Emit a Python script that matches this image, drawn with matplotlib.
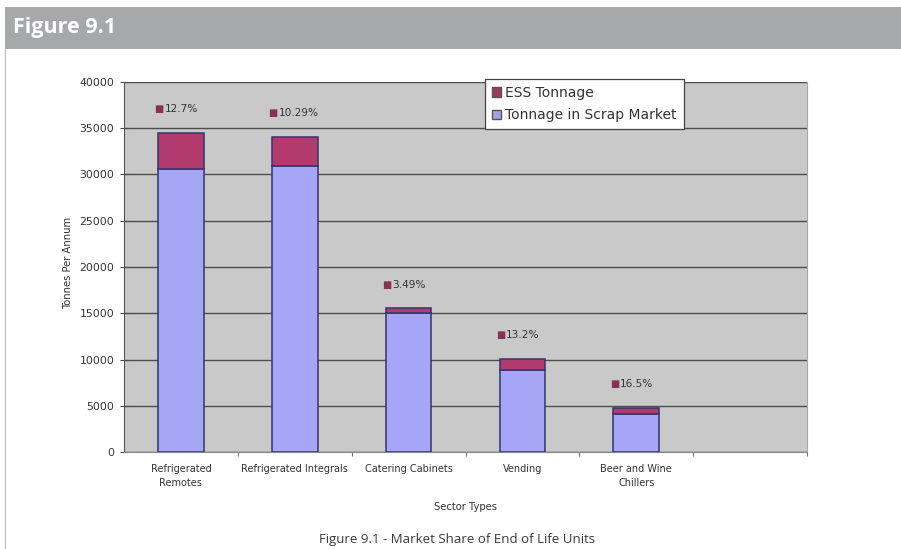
import matplotlib
matplotlib.use("Agg")
import matplotlib.pyplot as plt
from matplotlib.patches import Rectangle, Patch
from matplotlib.lines import Line2D


# -----------------------------
# DATA
# -----------------------------

sectors = [
    "Refrigerated\nRemotes",
    "Refrigerated Integrals",
    "Catering Cabinets",
    "Vending",
    "Beer and Wine\nChillers",
]

scrap_tonnage = [30600, 30900, 15000, 8900, 4100]
ess_tonnage = [3900, 3200, 520, 1200, 680]
share_labels = ["12.7%", "10.29%", "3.49%", "13.2%", "16.5%"]

y_ticks = [0, 5000, 10000, 15000, 20000, 25000, 30000, 35000, 40000]


# -----------------------------
# COLOURS
# -----------------------------

scrap_color = "#a6a6f7"
ess_color = "#b33a6d"
edge_color = "#34346e"
plot_bg = "#c9c9c9"
grid_color = "#4d4d4d"
text_color = "#333333"
header_color = "#a7a8aa"


# -----------------------------
# FIGURE + HEADER
# -----------------------------

W, H = 901, 549
fig = plt.figure(figsize=(W / 100, H / 100), dpi=100)
fig.patch.set_facecolor("white")

# grey header band
fig.add_artist(Rectangle(
    (5 / W, 1 - 49 / H), 896 / W, 42 / H,
    transform=fig.transFigure, facecolor=header_color,
    edgecolor="none", zorder=0
))

fig.text(
    13 / W, 1 - 28 / H, "Figure 9.1",
    family="Open Sans", weight="bold", fontsize=15.5,
    color="white", va="center", ha="left"
)

# left border of the panel
fig.add_artist(Line2D(
    [5 / W, 5 / W], [0, 1 - 49 / H],
    transform=fig.transFigure, color="#c4c4c4", lw=1.0
))


# -----------------------------
# STACKED BAR CHART
# -----------------------------

ax = fig.add_axes([124 / W, 1 - 452 / H, 683 / W, 370 / H])
ax.set_facecolor(plot_bg)

x = list(range(len(sectors)))

ax.bar(
    x, scrap_tonnage, width=0.4,
    color=scrap_color, edgecolor=edge_color, linewidth=1.1,
    zorder=3
)

ax.bar(
    x, ess_tonnage, width=0.4, bottom=scrap_tonnage,
    color=ess_color, edgecolor=edge_color, linewidth=1.1,
    zorder=3
)

# data labels with a small legend key
for i in x:

    total = scrap_tonnage[i] + ess_tonnage[i]

    ax.annotate(
        "\u25a0", xy=(i, total), xytext=(-19, 17),
        textcoords="offset points", ha="left", va="center",
        fontsize=7, color="#8a2f55", family="DejaVu Sans"
    )

    ax.annotate(
        share_labels[i], xy=(i, total), xytext=(-11.8, 17),
        textcoords="offset points", ha="left", va="center",
        fontsize=7.6, color=text_color, family="DejaVu Sans"
    )

ax.set_xlim(-0.5, 5.5)
ax.set_ylim(0, 40000)

ax.set_yticks(y_ticks)
ax.set_yticklabels([str(v) for v in y_ticks])
ax.yaxis.grid(True, color=grid_color, linewidth=1.0, zorder=1)
ax.set_axisbelow(True)

ax.tick_params(
    axis="y", direction="inout", length=6, width=0.8,
    colors=grid_color, labelcolor=text_color, labelsize=7.8, pad=4
)
for lab in ax.get_yticklabels():
    lab.set_family("DejaVu Sans")

# category boundaries get the tick marks, labels sit in the middle
ax.set_xticks([0.5, 1.5, 2.5, 3.5, 4.5, 5.5])
ax.set_xticklabels([])
ax.tick_params(axis="x", which="major", direction="out",
               length=3, width=0.8, colors="#777777")

ax.set_xticks(x, minor=True)
ax.set_xticklabels(sectors, minor=True)
ax.tick_params(axis="x", which="minor", length=0, pad=9,
               labelsize=7, labelcolor=text_color)
for lab in ax.get_xticklabels(minor=True):
    lab.set_family("DejaVu Sans")
    lab.set_linespacing(1.5)
    lab.set_verticalalignment("top")

ax.spines["top"].set_visible(False)
ax.spines["left"].set_color("#555555")
ax.spines["bottom"].set_color("#888888")
ax.spines["right"].set_color("#a8a8a8")


# -----------------------------
# LEGEND
# -----------------------------

handles = [
    Patch(facecolor="#9c3a62", edgecolor="#555555", label="ESS Tonnage"),
    Patch(facecolor="#a2a2e4", edgecolor="#555555",
          label="Tonnage in Scrap Market"),
]

leg = ax.legend(
    handles=handles, loc="upper left",
    bbox_to_anchor=(0.528, 1.008),
    prop={"family": "DejaVu Sans", "size": 10},
    frameon=True, fancybox=False, framealpha=1,
    edgecolor="#444444", handlelength=0.7, handleheight=0.7,
    handletextpad=0.3, borderpad=0.5, labelspacing=0.6,
    borderaxespad=0
)
leg.get_frame().set_linewidth(0.9)
for t in leg.get_texts():
    t.set_color(text_color)


# -----------------------------
# AXIS TITLES + CAPTION
# -----------------------------

fig.text(
    68 / W, 1 - 263 / H, "Tonnes Per Annum",
    rotation=90, ha="center", va="center",
    fontsize=7.2, color=text_color, family="DejaVu Sans"
)

fig.text(
    466 / W, 1 - 507 / H, "Sector Types",
    ha="center", va="center",
    fontsize=7.2, color=text_color, family="DejaVu Sans"
)

fig.text(
    457 / W, 1 - 540 / H,
    "Figure 9.1 - Market Share of End of Life Units",
    ha="center", va="center",
    fontsize=9.5, color="#3a3a3a", family="Open Sans"
)

fig.savefig("out.png", dpi=100)
plt.close(fig)
